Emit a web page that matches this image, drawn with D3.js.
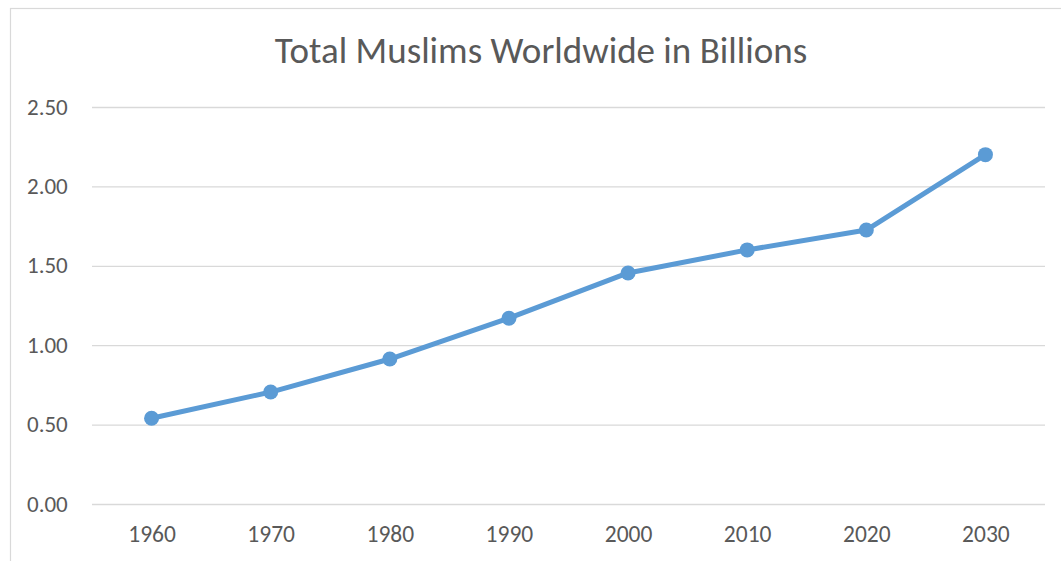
<!DOCTYPE html>
<html><head><meta charset="utf-8">
<script src="https://cdn.jsdelivr.net/npm/d3@7/dist/d3.min.js"></script>
<style>body{margin:0;background:#fff;}svg{display:block;}</style>
</head><body>
<script>
const years = ["1960","1970","1980","1990","2000","2010","2020","2030"];
const muslims = [0.54, 0.705, 0.913, 1.17, 1.455, 1.60, 1.725, 2.20];
const yTicks = [0, 0.5, 1.0, 1.5, 2.0, 2.5];
const title = "Total Muslims Worldwide in Billions";

(function () {
const W = 1061, H = 561;
const svg = d3.select("body").append("svg").attr("width", W).attr("height", H);
const font = "Calibri, Carlito, 'Open Sans', 'Noto Sans', sans-serif";

svg.append("rect").attr("x", 10.5).attr("y", 8.5).attr("width", 1200).attr("height", 800)
  .attr("fill", "#fff").attr("stroke", "#d9d9d9").attr("stroke-width", 1.2);

const pl = 92, pr = 1045, pt = 107, pb = 504;
const x = d3.scalePoint().domain(years).range([pl, pr]).padding(0.5);
const y = d3.scaleLinear().domain([0, 2.5]).range([pb, pt]);

svg.append("text").attr("x", 541).attr("y", 63).attr("text-anchor", "middle")
  .attr("font-family", font).attr("font-size", 37).attr("fill", "#595959").text(title);

const yAxis = d3.axisLeft(y).tickValues(yTicks).tickFormat(d3.format(".2f")).tickSize(-(pr - pl));
const gy = svg.append("g").attr("transform", `translate(${pl},0)`).call(yAxis);
gy.select(".domain").remove();
gy.selectAll(".tick line").attr("stroke", "#d9d9d9").attr("stroke-width", 1.3);
gy.selectAll(".tick text").attr("font-family", font).attr("font-size", 23).attr("fill", "#595959")
  .attr("text-anchor", "start").attr("x", -65).attr("dy", 7);

const xAxis = d3.axisBottom(x).tickSize(0);
const gx = svg.append("g").attr("transform", `translate(0,${pb})`).call(xAxis);
gx.select(".domain").remove();
gx.selectAll(".tick text").attr("font-family", font).attr("font-size", 23.5).attr("fill", "#595959")
  .attr("y", 38).attr("dy", 0);

const line = d3.line().x((d, i) => x(years[i])).y(d => y(d));
svg.append("path").datum(muslims).attr("d", line).attr("fill", "none")
  .attr("stroke", "#5b9bd5").attr("stroke-width", 5).attr("stroke-linejoin", "round").attr("stroke-linecap", "round");

svg.selectAll("circle.pt").data(muslims).enter().append("circle").attr("class", "pt")
  .attr("cx", (d, i) => x(years[i])).attr("cy", d => y(d)).attr("r", 7.5).attr("fill", "#5b9bd5");
})();
</script>
</body></html>
